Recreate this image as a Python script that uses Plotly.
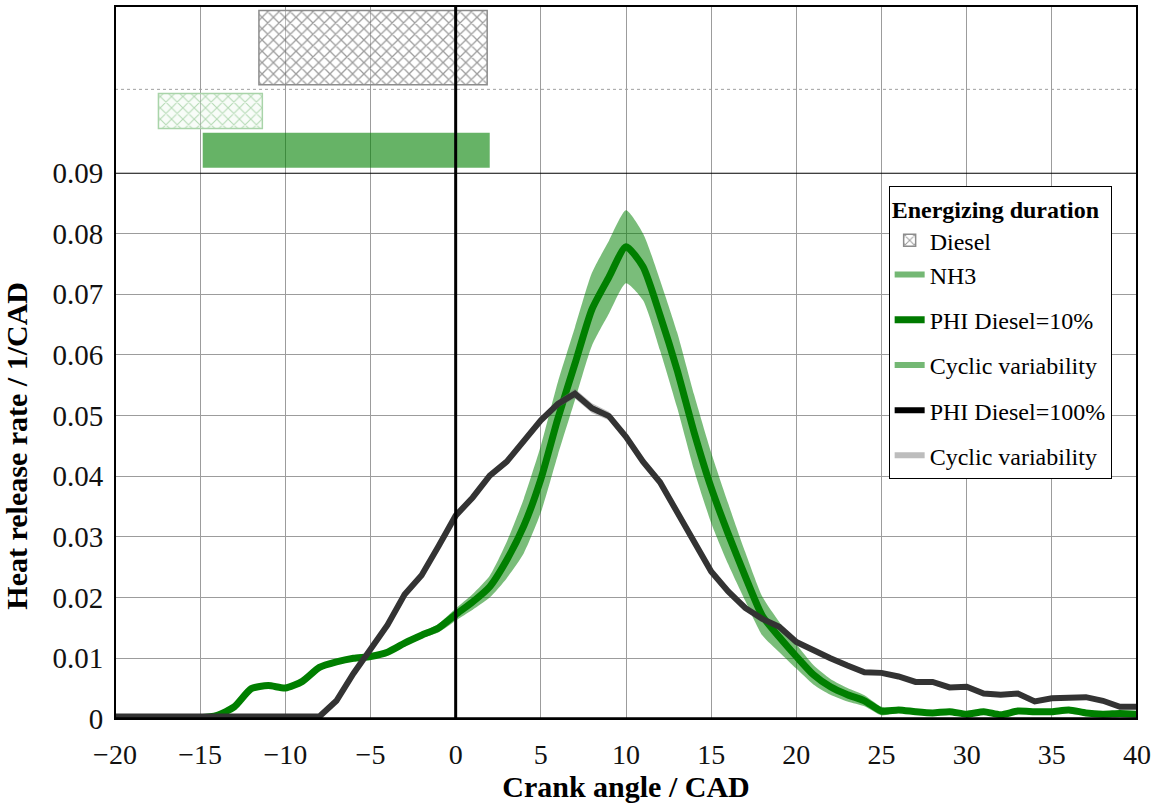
import plotly.graph_objects as go

# ---------------- data ----------------
crank = list(range(-20, 41))

phi10_mean = [0.0002, 0.0002, 0.0002, 0.0002, 0.0002, 0.0002, 0.0006, 0.0020, 0.0050, 0.0055,
              0.0051, 0.0062, 0.0085, 0.0094, 0.0100, 0.0103, 0.0110, 0.0125, 0.0138, 0.0150,
              0.0172, 0.0193, 0.0218, 0.0262, 0.0318, 0.0395, 0.0495, 0.0585, 0.0675, 0.0728,
              0.0778, 0.0745, 0.0665, 0.0575, 0.0472, 0.0381, 0.0305, 0.0235, 0.0170, 0.0135,
              0.0103, 0.0073, 0.0053, 0.0040, 0.0030, 0.0013, 0.0015, 0.0012, 0.0010, 0.0012,
              0.0008, 0.0012, 0.0007, 0.0013, 0.0012, 0.0012, 0.0015, 0.0010, 0.0008, 0.0009,
              0.0008]
phi10_spread = [0.0003] * 17 + [0.0004, 0.0005, 0.0007, 0.0010, 0.0013, 0.0018, 0.0030, 0.0045,
                                0.0055, 0.0060, 0.0060, 0.0060, 0.0060, 0.0060, 0.0055, 0.0058,
                                0.0062, 0.0062, 0.0058, 0.0050, 0.0040, 0.0032, 0.0025, 0.0020,
                                0.0016, 0.0013, 0.0011, 0.0009, 0.0007] + [0.0004] * 15

phi100_mean = [0.0004, 0.0004, 0.0004, 0.0004, 0.0004, 0.0004, 0.0003, 0.0003, 0.0003, 0.0004,
               0.0005, 0.0003, 0.0004, 0.0030, 0.0075, 0.0115, 0.0155, 0.0205, 0.0237, 0.0285,
               0.0335, 0.0365, 0.0401, 0.0424, 0.0458, 0.0492, 0.0519, 0.0536, 0.0512, 0.0499,
               0.0465, 0.0424, 0.0390, 0.0342, 0.0290, 0.0243, 0.0210, 0.0183, 0.0165, 0.0152,
               0.0127, 0.0113, 0.0100, 0.0088, 0.0077, 0.0076, 0.0070, 0.0061, 0.0061, 0.0052,
               0.0053, 0.0042, 0.0040, 0.0042, 0.0029, 0.0034, 0.0035, 0.0036, 0.0030, 0.0020,
               0.0020]
phi100_spread = [0.0003] * 22 + [0.0005, 0.0006, 0.0004, 0.0004, 0.0006, 0.0008, 0.0008,
                                 0.0007, 0.0005] + [0.0003] * 30

# energizing durations (top panel)
bar_names = ["Diesel", "Diesel (PHI 10%)", "NH3"]
bar_start = [-11.55, -17.45, -14.85]
bar_end = [1.85, -11.35, 2.0]
bar_row = [1.5, 0.74, 0.27]

y_ticks = [0, 0.01, 0.02, 0.03, 0.04, 0.05, 0.06, 0.07, 0.08, 0.09]
y_ticktext = ["0", "0.01", "0.02", "0.03", "0.04", "0.05", "0.06", "0.07", "0.08", "0.09"]

FONT = "Liberation Serif"
GRID = "#9c9c9c"

fig = go.Figure()

# ---------- top panel bars ----------
fig.add_trace(go.Bar(
    y=[bar_row[0]], x=[bar_end[0] - bar_start[0]], base=[bar_start[0]], orientation="h",
    width=0.89, xaxis="x2", yaxis="y2", name="Diesel", legendgroup="g1",
    marker=dict(color="rgba(255,255,255,0.3)", line=dict(color="#8c8c8c", width=1.5),
                pattern=dict(shape="x", size=8, solidity=0.3, fgcolor="#3c3c3c",
                             bgcolor="rgba(255,255,255,0.3)")),
    showlegend=True, hoverinfo="skip"))
fig.add_trace(go.Bar(
    y=[bar_row[1]], x=[bar_end[1] - bar_start[1]], base=[bar_start[1]], orientation="h",
    width=0.42, xaxis="x2", yaxis="y2", name=bar_names[1],
    marker=dict(color="rgba(230,245,230,0.3)", line=dict(color="#a9d4a9", width=1.5),
                pattern=dict(shape="x", size=8, solidity=0.25, fgcolor="#6fb46f",
                             bgcolor="rgba(235,247,235,0.35)")),
    showlegend=False, hoverinfo="skip"))
fig.add_trace(go.Bar(
    y=[bar_row[2]], x=[bar_end[2] - bar_start[2]], base=[bar_start[2]], orientation="h",
    width=0.42, xaxis="x2", yaxis="y2", name=bar_names[2],
    marker=dict(color="rgba(0,128,0,0.6)", line=dict(width=0)),
    showlegend=False, hoverinfo="skip"))

# ---------- curves ----------
g_hi = [m + s for m, s in zip(phi10_mean, phi10_spread)]
g_lo = [m - s for m, s in zip(phi10_mean, phi10_spread)]
k_hi = [m + s for m, s in zip(phi100_mean, phi100_spread)]
k_lo = [m - s for m, s in zip(phi100_mean, phi100_spread)]

fig.add_trace(go.Scatter(x=crank, y=g_hi, mode="lines",
                         line=dict(width=0, shape="spline", smoothing=0.6),
                         showlegend=False, hoverinfo="skip"))
fig.add_trace(go.Scatter(x=crank, y=g_lo, mode="lines",
                         line=dict(width=0, shape="spline", smoothing=0.6),
                         fill="tonexty", fillcolor="rgba(0,128,0,0.52)",
                         showlegend=False, hoverinfo="skip"))
fig.add_trace(go.Scatter(x=crank, y=phi10_mean, mode="lines",
                         line=dict(color="#007f00", width=7, shape="spline", smoothing=0.6),
                         showlegend=False))
fig.add_trace(go.Scatter(x=crank, y=k_hi, mode="lines", line=dict(width=0),
                         showlegend=False, hoverinfo="skip"))
fig.add_trace(go.Scatter(x=crank, y=k_lo, mode="lines", line=dict(width=0),
                         fill="tonexty", fillcolor="rgba(120,120,120,0.45)",
                         showlegend=False, hoverinfo="skip"))
fig.add_trace(go.Scatter(x=crank, y=phi100_mean, mode="lines",
                         line=dict(color="#333333", width=6),
                         showlegend=False))

# ---------- legend-only entries ----------
legend_items = [
    ("NH3", "#74b874", 6, "g1"),
    ("PHI Diesel=10%", "#007a00", 7, "g2"),
    ("Cyclic variability", "#74b874", 6, "g3"),
    ("PHI Diesel=100%", "#000000", 6, "g4"),
    ("Cyclic variability", "#bdbdbd", 6, "g5"),
]
for nm, col, w, grp in legend_items:
    fig.add_trace(go.Scatter(x=[None], y=[None], mode="lines", name=nm, legendgroup=grp,
                             line=dict(color=col, width=w), showlegend=True))

DOM = 0.7662
fig.update_layout(
    width=1155, height=807,
    margin=dict(l=115, r=18, t=6, b=88, autoexpand=False),
    paper_bgcolor="white", plot_bgcolor="white",
    font=dict(family=FONT, size=28, color="black"),
    barmode="overlay",
    xaxis=dict(domain=[0, 1], anchor="y", range=[-20, 40], dtick=5, tick0=0,
               showgrid=True, gridcolor=GRID, gridwidth=1, zeroline=False, automargin=False,
               ticks="outside", ticklen=10, tickcolor="rgba(0,0,0,0)",
               tickfont=dict(family=FONT, size=28, color="#111111"),
               title=dict(text="<b>Crank angle / CAD</b>", font=dict(family=FONT, size=30),
                          standoff=2)),
    yaxis=dict(domain=[0, DOM], anchor="x", range=[0, 0.09], tickvals=y_ticks,
               ticktext=y_ticktext, showgrid=True, gridcolor=GRID, gridwidth=1,
               zeroline=False, automargin=False, ticks="outside", ticklen=5,
               tickcolor="rgba(0,0,0,0)",
               tickfont=dict(family=FONT, size=29, color="#111111"),
               title=dict(text="<b>Heat release rate / 1/CAD</b>",
                          font=dict(family=FONT, size=30), standoff=16)),
    xaxis2=dict(domain=[0, 1], anchor="y2", matches="x", range=[-20, 40], dtick=5,
                showgrid=True, gridcolor=GRID, gridwidth=1, zeroline=False,
                showticklabels=False, ticks="", automargin=False),
    yaxis2=dict(domain=[DOM, 1], anchor="x2", range=[0, 2], showgrid=False,
                zeroline=False, showticklabels=False, ticks="", automargin=False),
    legend=dict(x=0.757, y=0.7475, xanchor="left", yanchor="top",
                bgcolor="white", bordercolor="black", borderwidth=1,
                font=dict(family=FONT, size=24, color="black"),
                title=dict(text="<b>Energizing duration</b>", font=dict(family=FONT, size=24)),
                itemwidth=30, tracegroupgap=11, traceorder="grouped"),
    shapes=[
        dict(type="line", xref="paper", yref="y2", x0=0, x1=1, y0=1, y1=1,
             line=dict(color="#a0a0a0", width=1, dash="dot")),
        dict(type="rect", xref="paper", yref="paper", x0=0, x1=1, y0=0, y1=1,
             line=dict(color="black", width=2)),
        dict(type="line", xref="paper", yref="y", x0=0, x1=1, y0=0.09, y1=0.09,
             line=dict(color="black", width=2)),
        dict(type="line", xref="paper", yref="y", x0=0, x1=1, y0=0, y1=0,
             line=dict(color="black", width=3.5)),
        dict(type="line", xref="x", yref="paper", x0=0, x1=0, y0=0, y1=1,
             line=dict(color="black", width=3)),
    ],
)

fig.write_html("out.html")
